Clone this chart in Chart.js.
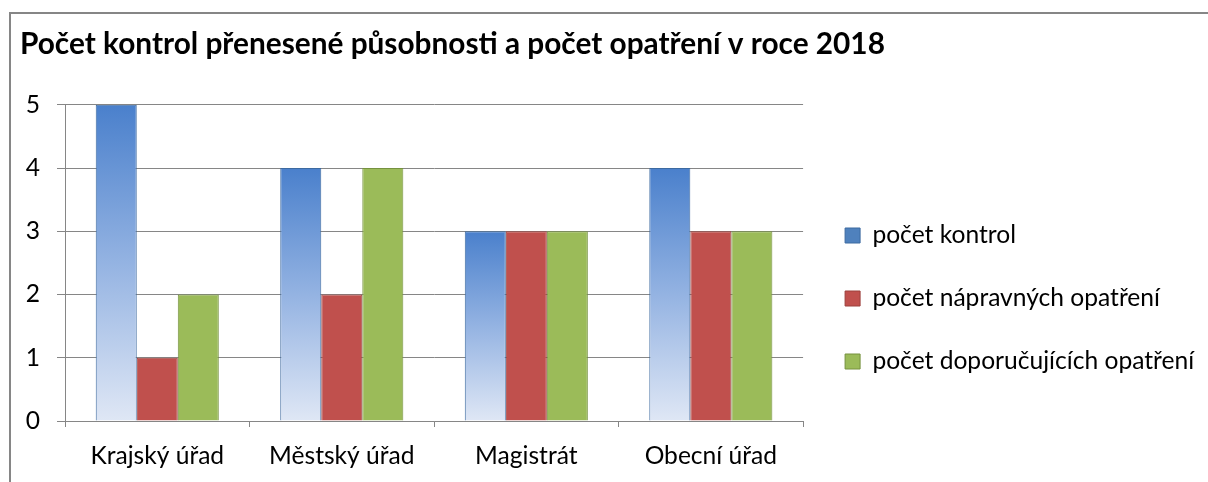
<!DOCTYPE html>
<html>
<head>
<meta charset="utf-8">
<script src="https://cdn.jsdelivr.net/npm/chart.js@4.4.1/dist/chart.umd.min.js"></script>
<style>
  body { margin: 0; background: #fff; }
</style>
</head>
<body>
<canvas id="graf" width="1208" height="482"></canvas>
<script>
const kategorie = ['Krajský úřad', 'Městský úřad', 'Magistrát', 'Obecní úřad'];
const nazvy_rad = ['počet kontrol', 'počet nápravných opatření', 'počet doporučujících opatření'];
const pocet_kontrol = [5, 4, 3, 4];
const pocet_napravnych = [1, 2, 3, 3];
const pocet_doporucujicich = [2, 4, 3, 3];
const y_ticks = [0, 1, 2, 3, 4, 5];

const seda = '#868686';
const pismo = 'Lato';

// modry sloupec ma prechod od tmave modre nahore ke svetle dole, pro kazdy sloupec zvlast
function modry_prechod(context) {
    const chart = context.chart;
    if (!chart.chartArea || context.raw === undefined) return '#4f81bd';
    const y = chart.scales.y;
    const nahore = y.getPixelForValue(context.raw);
    const dole = y.getPixelForValue(0);
    const g = chart.ctx.createLinearGradient(0, nahore, 0, dole);
    g.addColorStop(0, '#4a80cc');
    g.addColorStop(0.5, '#94b3e2');
    g.addColorStop(1, '#dfe7f5');
    return g;
}

const barvy_legendy = ['#4f81bd', '#c0504d', '#9bbb59'];
const okraje_legendy = ['#3d6aa0', '#9c403d', '#76923f'];

const ramecek = {
    id: 'ramecek',
    beforeDraw(chart) {
        const ctx = chart.ctx;
        ctx.save();
        ctx.strokeStyle = seda;
        ctx.lineWidth = 2;
        ctx.strokeRect(10, 13, 1400, 700);
        ctx.restore();
    }
};

// posun legendy, aby sedela jako v puvodnim grafu
const posun_legendy = {
    id: 'posun_legendy',
    afterLayout(chart) {
        const l = chart.legend;
        l.left += 3.6; l.right += 3.6;
        l.top += 63; l.bottom += 63;
    }
};

const ctx = document.getElementById('graf').getContext('2d');
new Chart(ctx, {
    type: 'bar',
    data: {
        labels: kategorie,
        datasets: [{
            label: nazvy_rad[0],
            data: pocet_kontrol,
            backgroundColor: modry_prechod,
            borderColor: '#3d6aa0',
            borderWidth: 1,
        }, {
            label: nazvy_rad[1],
            data: pocet_napravnych,
            backgroundColor: '#c0504d',
            borderColor: '#9c403d',
            borderWidth: 1,
        }, {
            label: nazvy_rad[2],
            data: pocet_doporucujicich,
            backgroundColor: '#9bbb59',
            borderColor: '#76923f',
            borderWidth: 1,
        }]
    },
    options: {
        responsive: false,
        animation: false,
        devicePixelRatio: 1,
        categoryPercentage: 0.667,
        barPercentage: 1,
        layout: { padding: { left: 20, right: 7.5, top: 0, bottom: 11 } },
        plugins: {
            title: {
                display: true,
                text: 'Počet kontrol přenesené působnosti a počet opatření v roce 2018',
                align: 'start',
                color: '#000',
                font: { family: pismo, size: 29.8, weight: 'bold' },
                padding: { top: 27, bottom: 42 }
            },
            legend: {
                position: 'right',
                maxWidth: 600,
                labels: {
                    color: '#000',
                    font: { family: pismo, size: 24.6 },
                    boxWidth: 15,
                    boxHeight: 15,
                    padding: 38.4,
                    generateLabels: function (chart) {
                        return chart.data.datasets.map(function (ds, i) {
                            return {
                                text: ds.label,
                                fillStyle: barvy_legendy[i],
                                strokeStyle: okraje_legendy[i],
                                lineWidth: 1,
                                datasetIndex: i
                            };
                        });
                    }
                }
            },
            tooltip: { enabled: false }
        },
        scales: {
            x: {
                afterFit: function (axis) { axis.height = 50; },
                grid: { drawOnChartArea: false, drawTicks: true, tickLength: 6, color: seda },
                border: { color: seda, width: 1 },
                ticks: { color: '#000', padding: 14, font: { family: pismo, size: 24.6 } }
            },
            y: {
                min: 0,
                max: 5,
                afterBuildTicks: function (axis) {
                    axis.ticks = y_ticks.map(function (v) { return { value: v }; });
                },
                afterFit: function (axis) { axis.width = 45; },
                grid: { color: seda, tickLength: 8 },
                border: { color: seda, width: 1 },
                ticks: { color: '#000', padding: 17, font: { family: pismo, size: 24.6 } }
            }
        }
    },
    plugins: [ramecek, posun_legendy]
});
</script>
</body>
</html>
